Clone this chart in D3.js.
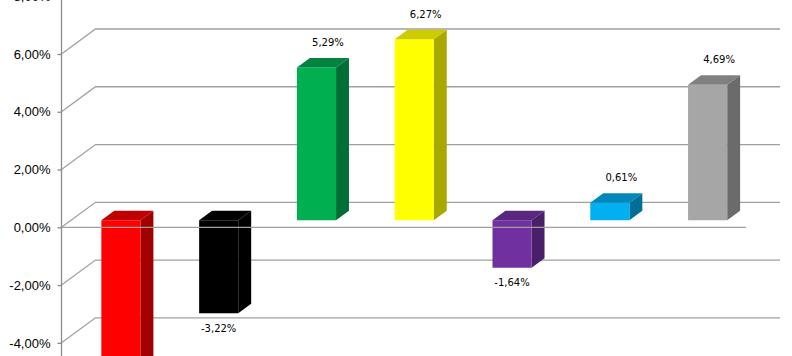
<!DOCTYPE html>
<html>
<head>
<meta charset="utf-8">
<script src="https://cdn.jsdelivr.net/npm/d3@7"></script>
<style>
  html, body { margin: 0; padding: 0; background: #fff; }
  svg { display: block; }
</style>
</head>
<body>
<svg id="chart" width="792" height="356"></svg>
<script>
// ---- data ----
const categories = ["A", "B", "C", "D", "E", "F", "G"];
const values = [-5.6, -3.22, 5.29, 6.27, -1.64, 0.61, 4.69];
const frontColors = ["#FF0000", "#000000", "#00B050", "#FFFF00", "#7030A0", "#00B0F0", "#A6A6A6"];
const topColors   = ["#C00000", "#000000", "#00843E", "#CCCC00", "#592680", "#0088BA", "#808080"];
const sideColors  = ["#A00000", "#000000", "#006E36", "#A8A800", "#4A1F6A", "#006F98", "#6B6B6B"];
const tickValues = [-4, -2, 0, 2, 4, 6, 8];

// ---- layout ----
const svg = d3.select("#chart");
const x0 = 61.5, x1 = 746;           // front plane x range
const depthX = 34, depthY = 25;      // full depth offset
const zFront = 0.28, zBack = 0.66;   // bar depth fraction

const x = d3.scaleBand().domain(categories).range([x0, x1]).padding(0);
const y = d3.scaleLinear().domain([0, 6]).range([227.3, 54]);
const loc = d3.formatLocale({decimal: ",", thousands: ".", grouping: [3], currency: ["", ""], minus: "-"});
const fmt = v => loc.format(".2f")(v) + "%";

const P = (xf, v, z) => [xf + z * depthX, y(v) - z * depthY];
const gridColor = "#A0A0A0";

// back wall gridlines + diagonals on side wall
const grid = svg.append("g");
tickValues.forEach(t => {
  const a = P(x0, t, 0), b = P(x0, t, 1), c = P(x1, t, 1);
  grid.append("path")
    .attr("d", `M${a[0]},${a[1]}L${b[0]},${b[1]}L${c[0]},${c[1]}`)
    .attr("fill", "none").attr("stroke", gridColor).attr("stroke-width", 1.3);
});

// vertical axis
const axis = d3.axisLeft(y).tickValues(tickValues).tickSize(4).tickPadding(7).tickFormat(fmt);
const axG = svg.append("g").attr("transform", `translate(${x0},0)`).call(axis);
axG.select(".domain").remove();
axG.append("line").attr("x1", 0).attr("x2", 0).attr("y1", -10).attr("y2", 370)
  .attr("stroke", "#8C8C8C").attr("stroke-width", 1.3);
axG.selectAll(".tick line").attr("stroke", "#8C8C8C").attr("stroke-width", 1.3);
axG.selectAll(".tick text").attr("font-family", "'Liberation Sans', Arial, sans-serif")
  .attr("font-size", 13).attr("fill", "#000");

// bars
const barW = x.bandwidth() * 0.4;
const bars = svg.append("g");
categories.forEach((c, i) => {
  const v = values[i];
  const xl = x(c) + (x.bandwidth() - barW) / 2 + 1;
  const xr = xl + barW;
  const top = Math.max(0, v), bot = Math.min(0, v);
  const poly = pts => pts.map(p => p.join(",")).join(" ");
  // side face
  bars.append("polygon").attr("points", poly([P(xr, top, zFront), P(xr, top, zBack), P(xr, bot, zBack), P(xr, bot, zFront)]))
    .attr("fill", sideColors[i]);
  // front face
  bars.append("polygon").attr("points", poly([P(xl, top, zFront), P(xr, top, zFront), P(xr, bot, zFront), P(xl, bot, zFront)]))
    .attr("fill", frontColors[i]);
  // top face
  bars.append("polygon").attr("points", poly([P(xl, top, zFront), P(xr, top, zFront), P(xr, top, zBack), P(xl, top, zBack)]))
    .attr("fill", topColors[i]);
});

// front zero line (drawn over bars)
svg.append("line")
  .attr("x1", x0).attr("x2", x1).attr("y1", y(0)).attr("y2", y(0))
  .attr("stroke", gridColor).attr("stroke-width", 1.3);

// data labels
const labels = svg.append("g");
categories.forEach((c, i) => {
  const v = values[i];
  const xl = x(c) + (x.bandwidth() - barW) / 2 + 1;
  let lx, ly;
  if (v >= 0) {
    const pBackTop = P(xl, v, zBack);
    lx = xl + zFront * depthX + (barW + (zBack - zFront) * depthX) / 2 + 5;
    ly = pBackTop[1] - 15.5;
  } else {
    const pFrontBot = P(xl, v, zFront);
    lx = pFrontBot[0] + barW / 2;
    ly = pFrontBot[1] + 15;
  }
  labels.append("text")
    .attr("x", lx).attr("y", ly)
    .attr("text-anchor", "middle").attr("dominant-baseline", "central")
    .attr("font-family", "'DejaVu Sans', Verdana, sans-serif").attr("font-size", 10)
    .attr("fill", "#000")
    .text(fmt(v));
});
</script>
</body>
</html>
